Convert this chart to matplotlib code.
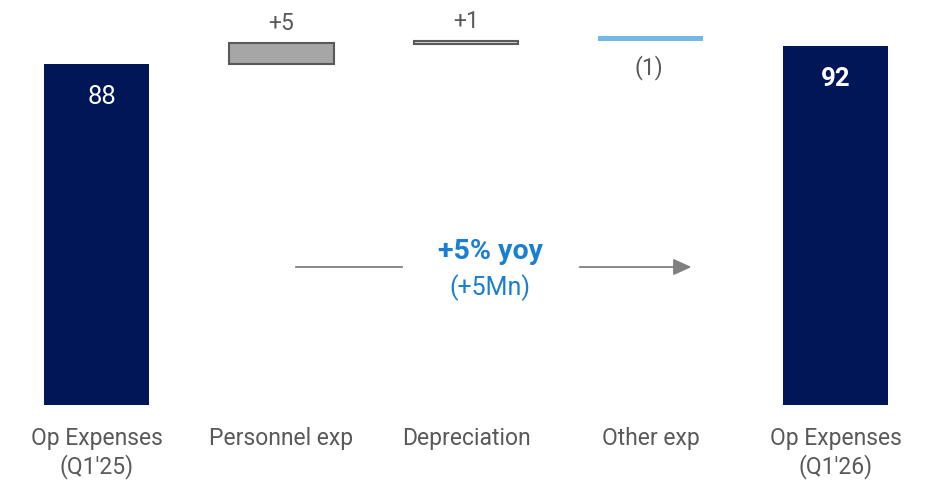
import matplotlib
matplotlib.use('Agg')
import matplotlib.pyplot as plt

plt.rcParams['font.family'] = ['Roboto', 'DejaVu Sans']

# data
categories = ["Op Expenses\n(Q1'25)", "Personnel exp", "Depreciation", "Other exp", "Op Expenses\n(Q1'26)"]
values = [88, 5.4, 0.7, -1.2, 92.6]
bases = [0, 88, 93.2, 95.2, 0]
value_labels = ["88", "+5", "+1", "(1)", "92"]
growth_pct = "+5% yoy"
growth_abs = "(+5Mn)"

navy = '#001657'
grey_txt = '#595959'
blue_txt = '#1a7fd0'
fills = [navy, '#a6a6a6', '#d9d9d9', '#74b9e6', navy]
edges = [navy, '#595959', '#595959', '#74b9e6', navy]
lws = [0, 1.5, 1.5, 0, 0]

fig = plt.figure(figsize=(9.3, 4.82), dpi=100)
ax = fig.add_axes([0, 77 / 482, 1, 405 / 482])

x = list(range(len(categories)))
ax.bar(x, values, bottom=bases, width=0.568, color=fills, edgecolor=edges, linewidth=lws)

for i, (v, b, lab) in enumerate(zip(values, bases, value_labels)):
    top = b + max(v, 0)
    low = b + min(v, 0)
    if i == 0:
        ax.text(i + 0.03, top - 8.5, lab, ha='center', va='center', color='white', fontsize=18.5)
    elif i == len(values) - 1:
        ax.text(i, top - 8.5, lab, ha='center', va='center', color='white', fontsize=18.5, fontweight='bold')
    elif v >= 0:
        ax.annotate(lab, (i, top), xytext=(0, 6), textcoords='offset points',
                    ha='center', va='bottom', color=grey_txt, fontsize=16.5)
    else:
        ax.annotate(lab, (i - 0.01, low), xytext=(0, -10), textcoords='offset points',
                    ha='center', va='top', color=grey_txt, fontsize=16.5)

# growth arrow
y_arr = 35.6
ax.plot([1.08, 1.654], [y_arr, y_arr], color='#808080', lw=1.3)
ax.annotate('', xy=(3.235, y_arr), xytext=(2.60, y_arr),
            arrowprops=dict(arrowstyle='-|>,head_length=1.1,head_width=0.5', color='#808080', lw=1.3))
ax.text(2.13, y_arr + 3.9, growth_pct, ha='center', va='center', color=blue_txt,
        fontsize=20.5, fontweight='bold')
ax.text(2.13, y_arr - 5.2, growth_abs, ha='center', va='center', color=blue_txt, fontsize=18)

ax.set_xlim(-0.522, 4.511)
ax.set_ylim(0, 104.5)
ax.set_xticks(x)
ax.set_xticklabels(categories, fontsize=16.5, color=grey_txt, linespacing=1.22)
ax.tick_params(axis='x', length=0, pad=16)
ax.set_yticks([])
for s in ax.spines.values():
    s.set_visible(False)

fig.savefig('out.png', dpi=100)
